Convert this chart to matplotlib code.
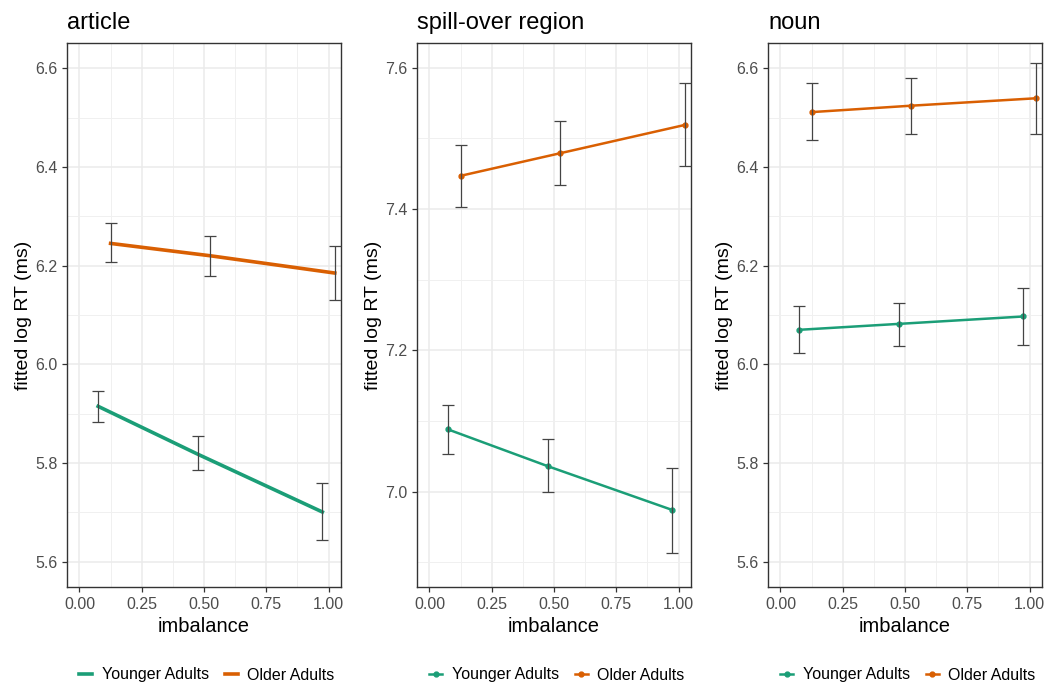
import matplotlib
matplotlib.use("Agg")
import matplotlib.pyplot as plt
from matplotlib.ticker import MultipleLocator
from matplotlib.lines import Line2D

plt.rcParams["font.family"] = ["Liberation Sans", "DejaVu Sans"]

imbalance = [0.1, 0.5, 1.0]
groups = ["Younger Adults", "Older Adults"]
panels = ["article", "spill-over region", "noun"]

# fitted values and CI bounds per panel, per group
fit = {
    "article": {"Younger Adults": [5.915, 5.818, 5.701], "Older Adults": [6.245, 6.220, 6.185]},
    "spill-over region": {"Younger Adults": [7.088, 7.036, 6.974], "Older Adults": [7.447, 7.479, 7.519]},
    "noun": {"Younger Adults": [6.070, 6.082, 6.097], "Older Adults": [6.511, 6.524, 6.539]},
}
lower = {
    "article": {"Younger Adults": [5.884, 5.786, 5.644], "Older Adults": [6.207, 6.178, 6.130]},
    "spill-over region": {"Younger Adults": [7.053, 6.999, 6.913], "Older Adults": [7.403, 7.434, 7.461]},
    "noun": {"Younger Adults": [6.023, 6.038, 6.040], "Older Adults": [6.454, 6.466, 6.467]},
}
upper = {
    "article": {"Younger Adults": [5.946, 5.855, 5.759], "Older Adults": [6.286, 6.260, 6.240]},
    "spill-over region": {"Younger Adults": [7.122, 7.075, 7.034], "Older Adults": [7.490, 7.524, 7.578]},
    "noun": {"Younger Adults": [6.118, 6.125, 6.154], "Older Adults": [6.569, 6.581, 6.610]},
}
ylims = {"article": (5.549, 6.651), "spill-over region": (6.865, 7.635), "noun": (5.549, 6.651)}
colors = {"Younger Adults": "#1B9E77", "Older Adults": "#D95F02"}
dodge = {"Younger Adults": -0.025, "Older Adults": 0.025}

W, H = 1050, 684
fig = plt.figure(figsize=(W / 100, H / 100), dpi=100)

lefts = [67, 417, 768]
ax_w = 274
top, bottom = 43, 587

for i, p in enumerate(panels):
    ax = fig.add_axes([lefts[i] / W, 1 - bottom / H, ax_w / W, (bottom - top) / H])
    thick = (p == "article")
    for g in groups:
        xs = [x + dodge[g] for x in imbalance]
        ax.plot(xs, fit[p][g], color=colors[g], lw=2.6 if thick else 1.8, zorder=3,
                marker=None if thick else "o", markersize=3.5)
        yerr = [[f - l for f, l in zip(fit[p][g], lower[p][g])],
                [u - f for f, u in zip(fit[p][g], upper[p][g])]]
        ax.errorbar(xs, fit[p][g], yerr=yerr, fmt="none", ecolor="#444444",
                    elinewidth=0.9, capsize=4.5, capthick=0.9, zorder=4)
    ax.set_xlim(-0.05, 1.05)
    ax.set_ylim(*ylims[p])
    ax.set_xticks([0, 0.25, 0.5, 0.75, 1.0])
    ax.set_xticklabels(["0.00", "0.25", "0.50", "0.75", "1.00"])
    ax.xaxis.set_minor_locator(MultipleLocator(0.125))
    ax.yaxis.set_major_locator(MultipleLocator(0.2))
    ax.yaxis.set_minor_locator(MultipleLocator(0.1))
    ax.grid(which="major", color="#EBEBEB", lw=1.1, zorder=0)
    ax.grid(which="minor", color="#F0F0F0", lw=0.7, zorder=0)
    ax.set_axisbelow(True)
    for s in ax.spines.values():
        s.set_color("#333333")
        s.set_linewidth(1.0)
    ax.tick_params(which="major", colors="#333333", labelcolor="#4D4D4D",
                   labelsize=11.5, length=3.5, width=0.9)
    ax.tick_params(which="minor", length=0)
    ax.set_xlabel("imbalance", fontsize=14.5, labelpad=4)
    ax.set_ylabel("fitted log RT (ms)", fontsize=14, labelpad=2)
    ax.set_title(p, loc="left", fontsize=17, pad=10)

    handles = [Line2D([0], [0], color=colors[g], lw=2.6 if thick else 1.8,
                      marker=None if thick else "o", markersize=3.5) for g in groups]
    fig.legend(handles, groups, loc="center",
               bbox_to_anchor=((lefts[i] + ax_w / 2 + 3) / W, 1 - 675 / H),
               ncol=2, frameon=False, fontsize=11.5, handlelength=0.8,
               columnspacing=1.0, handletextpad=0.6)

fig.savefig("out.png", dpi=100)
